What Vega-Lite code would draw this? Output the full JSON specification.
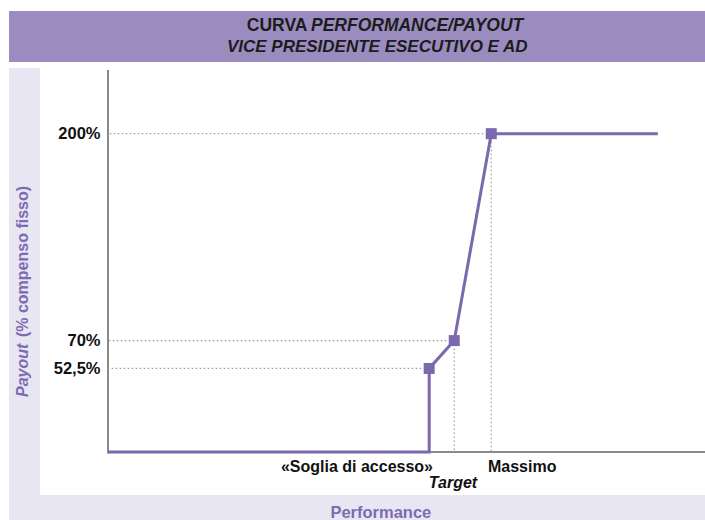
{
  "$schema": "https://vega.github.io/schema/vega-lite/v6.json",
  "width": 597,
  "height": 382,
  "autosize": {"type": "none"},
  "padding": {"left": 108, "top": 70, "right": 0, "bottom": 68},
  "background": "white",
  "config": {"view": {"stroke": null}, "font": "Liberation Sans"},
  "data": {"values": [{"item": "single"}]},
  "datasets": {
    "curve": [
      {"performance": 0, "payout": 0, "step": 1},
      {"performance": 53.8, "payout": 0, "step": 2},
      {"performance": 53.8, "payout": 52.5, "step": 3},
      {"performance": 58, "payout": 70, "step": 4},
      {"performance": 64.2, "payout": 200, "step": 5},
      {"performance": 92.1, "payout": 200, "step": 6}
    ],
    "points": [
      {"performance": 53.8, "payout": 52.5},
      {"performance": 58, "payout": 70},
      {"performance": 64.2, "payout": 200}
    ],
    "hguides": [
      {"payout": 200, "performance": 64.2},
      {"payout": 70, "performance": 58},
      {"payout": 52.5, "performance": 53.8}
    ],
    "vguides": [
      {"performance": 58, "payout": 70},
      {"performance": 64.2, "payout": 200}
    ]
  },
  "layer": [
    {
      "mark": {"type": "rect", "color": "#e8e6f2", "clip": false},
      "encoding": {
        "x": {"datum": -16.58, "type": "quantitative", "scale": {"domain": [0, 100]}, "axis": {"labels": false, "ticks": false, "grid": false, "domain": false, "title": null}},
        "x2": {"datum": 100},
        "y": {"datum": 241.25, "type": "quantitative", "scale": {"domain": [0, 240]},
          "axis": {"values": [52.5, 70, 200], "labelExpr": "datum.value == 52.5 ? '52,5%' : datum.value + '%'", "ticks": false, "grid": false, "domain": false, "title": null, "labelFontSize": 16.5, "labelColor": "#111111", "labelPadding": 8, "labelFont": "Liberation Sans", "labelFontWeight": "bold", "zindex": 1}},
        "y2": {"datum": -42.72}
      }
    },
    {
      "mark": {"type": "rect", "color": "#ffffff", "clip": false},
      "encoding": {
        "x": {"datum": -11.39, "type": "quantitative"},
        "x2": {"datum": 100},
        "y": {"datum": 241.25, "type": "quantitative"},
        "y2": {"datum": -27.01}
      }
    },
    {
      "mark": {"type": "rect", "color": "#9b8cc0", "clip": false},
      "encoding": {
        "x": {"datum": -16.58, "type": "quantitative"},
        "x2": {"datum": 100},
        "y": {"datum": 277.06, "type": "quantitative"},
        "y2": {"datum": 245.02}
      }
    },
    {
      "mark": {"type": "text", "text": "CURVA", "align": "right", "baseline": "middle", "fontSize": 17.5, "fontWeight": "bold", "color": "#1c1c1c", "clip": false},
      "encoding": {
        "x": {"datum": 33.4, "type": "quantitative"},
        "y": {"datum": 267.8, "type": "quantitative"}
      }
    },
    {
      "mark": {"type": "text", "text": "PERFORMANCE/PAYOUT", "align": "left", "baseline": "middle", "fontSize": 17.5, "fontWeight": "bold", "fontStyle": "italic", "color": "#1c1c1c", "clip": false},
      "encoding": {
        "x": {"datum": 34.0, "type": "quantitative"},
        "y": {"datum": 267.8, "type": "quantitative"}
      }
    },
    {
      "mark": {"type": "text", "text": "VICE PRESIDENTE ESECUTIVO E AD", "align": "center", "baseline": "middle", "fontSize": 17, "fontWeight": "bold", "fontStyle": "italic", "color": "#1c1c1c", "clip": false},
      "encoding": {
        "x": {"datum": 45.1, "type": "quantitative"},
        "y": {"datum": 254.3, "type": "quantitative"}
      }
    },
    {
      "mark": {"type": "rule", "color": "#8a8a8a", "strokeWidth": 2, "clip": false},
      "encoding": {
        "x": {"datum": 0, "type": "quantitative"},
        "y": {"datum": -1, "type": "quantitative"},
        "y2": {"datum": 240}
      }
    },
    {
      "mark": {"type": "rule", "color": "#8a8a8a", "strokeWidth": 2, "clip": false},
      "encoding": {
        "x": {"datum": 0, "type": "quantitative"},
        "x2": {"datum": 100},
        "y": {"datum": 0, "type": "quantitative"}
      }
    },
    {
      "data": {"name": "hguides"},
      "mark": {"type": "rule", "color": "#9a9a9a", "strokeWidth": 1.2, "strokeDash": [1.5, 2.5]},
      "encoding": {
        "x": {"field": "performance", "type": "quantitative"},
        "x2": {"datum": 0},
        "y": {"field": "payout", "type": "quantitative"}
      }
    },
    {
      "data": {"name": "vguides"},
      "mark": {"type": "rule", "color": "#9a9a9a", "strokeWidth": 1.2, "strokeDash": [1.5, 2.5]},
      "encoding": {
        "x": {"field": "performance", "type": "quantitative"},
        "y": {"field": "payout", "type": "quantitative"},
        "y2": {"datum": 0}
      }
    },
    {
      "data": {"name": "curve"},
      "mark": {"type": "line", "color": "#7b68ae", "strokeWidth": 3},
      "encoding": {
        "x": {"field": "performance", "type": "quantitative"},
        "y": {"field": "payout", "type": "quantitative"},
        "order": {"field": "step", "type": "quantitative"}
      }
    },
    {
      "data": {"name": "points"},
      "mark": {"type": "point", "shape": "square", "filled": true, "size": 121, "color": "#7b68ae", "opacity": 1},
      "encoding": {
        "x": {"field": "performance", "type": "quantitative"},
        "y": {"field": "payout", "type": "quantitative"}
      }
    },
    {
      "mark": {"type": "text", "text": "«Soglia di accesso»", "align": "right", "baseline": "middle", "fontSize": 16, "fontWeight": "bold", "color": "#111111", "clip": false},
      "encoding": {
        "x": {"datum": 54.44, "type": "quantitative"},
        "y": {"datum": -9.42, "type": "quantitative"}
      }
    },
    {
      "mark": {"type": "text", "text": "Target", "align": "center", "baseline": "middle", "fontSize": 16, "fontWeight": "bold", "fontStyle": "italic", "color": "#111111", "clip": false},
      "encoding": {
        "x": {"datum": 57.79, "type": "quantitative"},
        "y": {"datum": -19.48, "type": "quantitative"}
      }
    },
    {
      "mark": {"type": "text", "text": "Massimo", "align": "left", "baseline": "middle", "fontSize": 16, "fontWeight": "bold", "color": "#111111", "clip": false},
      "encoding": {
        "x": {"datum": 63.65, "type": "quantitative"},
        "y": {"datum": -9.42, "type": "quantitative"}
      }
    },
    {
      "mark": {"type": "text", "text": "Performance", "align": "center", "baseline": "middle", "fontSize": 16.5, "fontWeight": "bold", "color": "#7d6bb3", "clip": false},
      "encoding": {
        "x": {"datum": 45.7, "type": "quantitative"},
        "y": {"datum": -38.32, "type": "quantitative"}
      }
    },
    {
      "mark": {"type": "text", "text": "Payout", "angle": 270, "align": "left", "baseline": "middle", "fontSize": 16, "fontWeight": "bold", "fontStyle": "italic", "color": "#7d6bb3", "clip": false},
      "encoding": {
        "x": {"datum": -14.19, "type": "quantitative"},
        "y": {"datum": 34.55, "type": "quantitative"}
      }
    },
    {
      "mark": {"type": "text", "text": "(% compenso fisso)", "angle": 270, "align": "left", "baseline": "middle", "fontSize": 16, "fontWeight": "bold", "color": "#7d6bb3", "clip": false},
      "encoding": {
        "x": {"datum": -14.19, "type": "quantitative"},
        "y": {"datum": 72.2, "type": "quantitative"}
      }
    }
  ]
}
